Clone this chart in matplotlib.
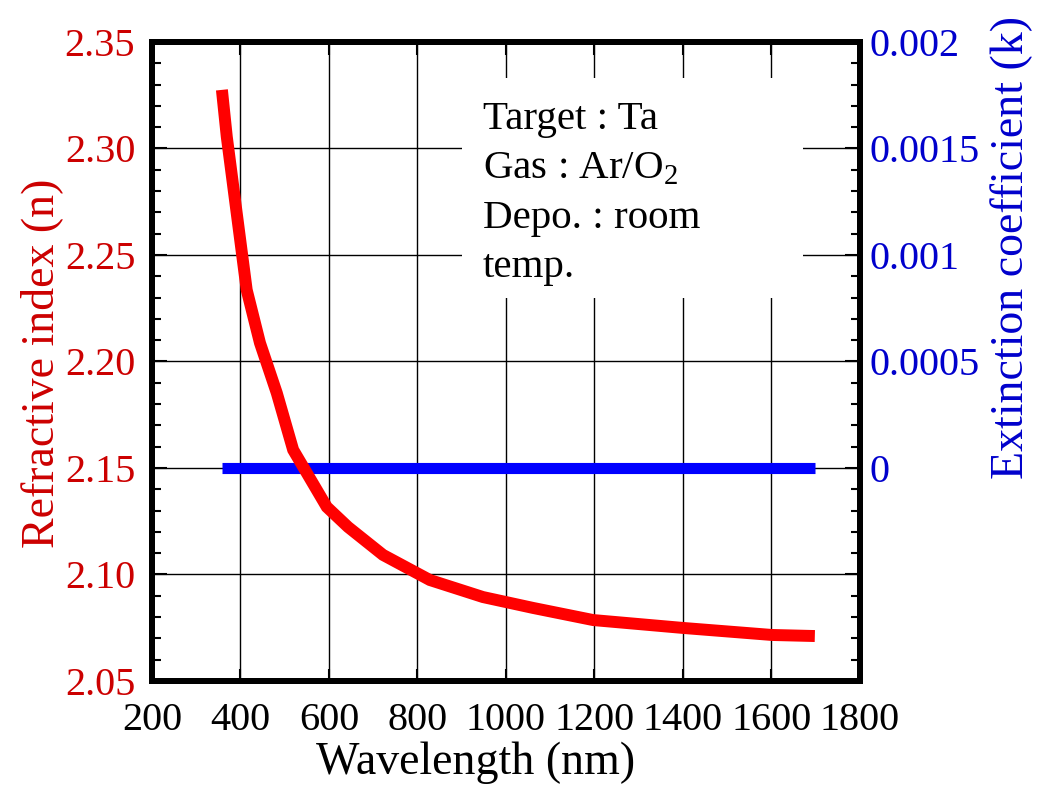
import matplotlib
matplotlib.use("Agg")
import matplotlib.pyplot as plt
from matplotlib.patches import Rectangle
from matplotlib.ticker import MultipleLocator, FixedLocator, FuncFormatter

plt.rcParams['font.family'] = ['Liberation Serif', 'DejaVu Serif']
plt.rcParams['mathtext.fontset'] = 'custom'
plt.rcParams['mathtext.rm'] = 'Liberation Serif'

# dispersion of the Ta2O5 film (ellipsometry)
wavelength = [358, 369, 414, 444, 482, 519, 595, 643, 722, 828, 948,
              1061, 1197, 1400, 1601, 1698]
n_index = [2.3275, 2.3055, 2.2336, 2.2087, 2.1852, 2.1585, 2.1317,
           2.1223, 2.1092, 2.0974, 2.0894, 2.0843, 2.0786, 2.0749, 2.0716,
           2.0711]
k_wavelength = [358, 1698]
k_coef = [0.0, 0.0]

x_ticks = [200, 400, 600, 800, 1000, 1200, 1400, 1600, 1800]
n_ticks = [2.05, 2.10, 2.15, 2.20, 2.25, 2.30, 2.35]
k_ticks = [-0.001, -0.0005, 0, 0.0005, 0.001, 0.0015, 0.002]
info = ["Target : Ta", "Gas : Ar/O$_2$", "Depo. : room", "temp."]

red_lbl = '#cc0000'
blue_lbl = '#0000cc'
fs_tick = 29
fs_lab = 33

fig = plt.figure(figsize=(10.49, 7.90), dpi=100)
ax = fig.add_axes([0.1449, 0.1380, 0.6749, 0.8089])
ax2 = ax.twinx()

ax.set_xlim(200, 1800)
ax.set_ylim(2.05, 2.35)
ax2.set_ylim(-0.001, 0.002)

ax.xaxis.set_major_locator(FixedLocator(x_ticks))
ax.yaxis.set_major_locator(FixedLocator(n_ticks))
ax.yaxis.set_minor_locator(MultipleLocator(0.01))
ax.yaxis.set_major_formatter(FuncFormatter(lambda v, p: "%.2f" % v))
ax2.yaxis.set_major_locator(FixedLocator(k_ticks))
ax2.yaxis.set_minor_locator(MultipleLocator(0.0001))
ax2.yaxis.set_major_formatter(
    FuncFormatter(lambda v, p: "" if v < -1e-9 else ("0" if abs(v) < 1e-9 else "%g" % v)))

ax.grid(True, which='major', color='black', lw=1.0)

for a in (ax, ax2):
    for s in a.spines.values():
        s.set_linewidth(4.3)

ax.tick_params(axis='x', which='major', direction='in', top=True, length=9, width=1.5,
               labelsize=fs_tick, pad=15)
ax.tick_params(axis='y', which='major', direction='in', right=False, length=11, width=1.5,
               labelsize=fs_tick, labelcolor=red_lbl, pad=12)
ax.tick_params(axis='y', which='minor', direction='in', right=False, length=6.5, width=1.5)
ax2.tick_params(axis='y', which='major', direction='in', length=11, width=1.5,
                labelsize=fs_tick, labelcolor=blue_lbl, pad=7)
ax2.tick_params(axis='y', which='minor', direction='in', length=6.5, width=1.5)

# white panel behind the deposition notes hides the grid
ax.add_patch(Rectangle((0.438, 0.599), 0.481, 0.345, transform=ax.transAxes,
                       facecolor='white', edgecolor='none', zorder=2))

ax.plot(k_wavelength, k_coef, color='#0000ff', lw=8, solid_capstyle='butt',
        transform=ax2.transData, scalex=False, scaley=False, zorder=3)
ax.plot(wavelength, n_index, color='#ff0000', lw=8.6, solid_capstyle='butt',
        solid_joinstyle='miter', zorder=4)

ax.set_xlabel("Wavelength (nm)", fontsize=fs_lab)
ax.xaxis.set_label_coords(0.457, -0.095)
ax.set_ylabel("Refractive index (n)", fontsize=fs_lab, color=red_lbl)
ax.yaxis.set_label_coords(-0.126, 0.497)
ax2.set_ylabel("Extinction coefficient (k)", fontsize=fs_lab, color=blue_lbl)
ax2.yaxis.set_label_coords(1.184, 0.678)

for i, line in enumerate(info):
    fig.text(483 / 1049, 1 - (129 + 49.5 * i) / 790, line, fontsize=29.5,
             va='baseline', ha='left')

fig.savefig("out.png", dpi=100)
